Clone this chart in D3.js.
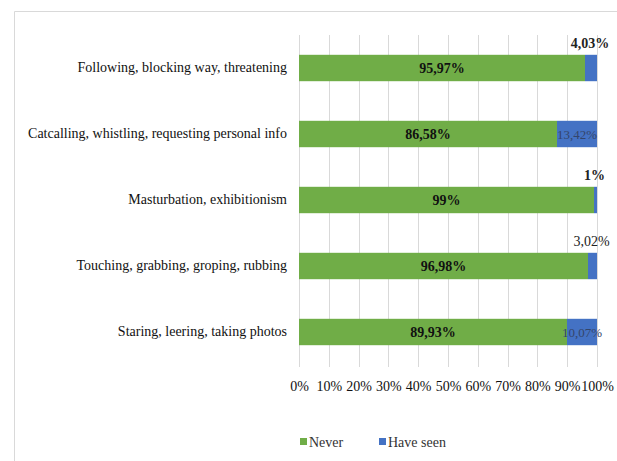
<!DOCTYPE html>
<html>
<head>
<meta charset="utf-8">
<script src="https://cdn.jsdelivr.net/npm/d3@7"></script>
<style>
  html, body { margin: 0; padding: 0; background: #fff; }
  svg { display: block; }
  text { font-family: "Liberation Serif", "Times New Roman", serif; }
</style>
</head>
<body>
<svg id="chart" width="617" height="461"></svg>
<script>
// Behaviour categories, top to bottom
const categories = [
  "Following, blocking way, threatening",
  "Catcalling, whistling, requesting personal info",
  "Masturbation, exhibitionism",
  "Touching, grabbing, groping, rubbing",
  "Staring, leering, taking photos"
];
// Shares (%) per series
const never = [95.97, 86.58, 99, 96.98, 89.93];
const haveSeen = [4.03, 13.42, 1, 3.02, 10.07];
// Label texts as printed
const neverLabels = ["95,97%", "86,58%", "99%", "96,98%", "89,93%"];
const seenLabels = ["4,03%", "13,42%", "1%", "3,02%", "10,07%"];
const seriesNames = ["Never", "Have seen"];
const tickValues = [0, 10, 20, 30, 40, 50, 60, 70, 80, 90, 100];

const colors = { "Never": "#70AD47", "Have seen": "#4472C4" };
const seenLabelWeight = ["bold", "normal", "bold", "normal", "normal"];

const svg = d3.select("#chart");

// Chart frame
svg.append("path")
  .attr("d", "M14.5,461 L14.5,11.5 L617,11.5")
  .attr("fill", "none")
  .attr("stroke", "#d9d9d9")
  .attr("stroke-width", 1);

const x = d3.scaleLinear().domain([0, 100]).range([299, 597]);
const y = d3.scaleBand().domain(categories).range([35, 365])
  .paddingInner(0.6).paddingOuter(0.3);

// Vertical gridlines
svg.append("g").selectAll("line").data(tickValues).join("line")
  .attr("x1", d => Math.round(x(d)) + 0.5)
  .attr("x2", d => Math.round(x(d)) + 0.5)
  .attr("y1", 35).attr("y2", 367)
  .attr("stroke", "#d9d9d9").attr("stroke-width", 1);

// X axis tick labels
const xAxis = d3.axisBottom(x).tickValues(tickValues)
  .tickFormat(d => d + "%").tickSize(0).tickPadding(0);
const gx = svg.append("g").attr("transform", "translate(0,380)").call(xAxis);
gx.select(".domain").remove();
gx.selectAll("text")
  .attr("font-size", 14).attr("fill", "#111")
  .attr("dy", "0.32em").attr("y", 7);

// Category labels
const yAxis = d3.axisLeft(y).tickSize(0).tickPadding(0);
const gy = svg.append("g").attr("transform", "translate(287,0)").call(yAxis);
gy.select(".domain").remove();
gy.selectAll("text")
  .attr("font-size", 14).attr("fill", "#111");

// Stacked bars
const rows = categories.map((c, i) => ({ c, i, never: never[i], seen: haveSeen[i] }));

svg.append("g").selectAll("rect").data(rows).join("rect")
  .attr("x", x(0))
  .attr("y", d => y(d.c))
  .attr("width", d => x(d.never) - x(0))
  .attr("height", y.bandwidth())
  .attr("fill", colors["Never"]);

svg.append("g").selectAll("rect").data(rows).join("rect")
  .attr("x", d => x(d.never))
  .attr("y", d => y(d.c))
  .attr("width", d => x(d.never + d.seen) - x(d.never))
  .attr("height", y.bandwidth())
  .attr("fill", colors["Have seen"]);

// Labels for the "Never" segment
svg.append("g").selectAll("text").data(rows).join("text")
  .attr("x", d => (x(0) + x(d.never)) / 2)
  .attr("y", d => y(d.c) + y.bandwidth() / 2)
  .attr("dy", "0.35em")
  .attr("text-anchor", "middle")
  .attr("font-size", 14).attr("font-weight", "bold")
  .attr("fill", "#111")
  .text(d => neverLabels[d.i]);

// Labels for the "Have seen" segment: inside when wide enough, above otherwise
svg.append("g").selectAll("text").data(rows).join("text")
  .attr("x", d => (x(d.never) + x(d.never + d.seen)) / 2 + (d.seen > 5 ? 0 : -1))
  .attr("y", d => d.seen > 5 ? y(d.c) + y.bandwidth() / 2 : y(d.c) - 12)
  .attr("dy", "0.35em")
  .attr("text-anchor", "middle")
  .attr("font-size", d => d.seen > 5 ? 13 : 14)
  .attr("font-weight", d => seenLabelWeight[d.i])
  .attr("fill", d => d.seen > 5 ? "#34456b" : "#222")
  .text(d => seenLabels[d.i]);

// Legend
const legend = svg.append("g").attr("transform", "translate(300,442)");
const items = legend.selectAll("g").data(seriesNames).join("g")
  .attr("transform", (d, i) => `translate(${i * 79},0)`);
items.append("rect")
  .attr("x", 0).attr("y", -4).attr("width", 7).attr("height", 7)
  .attr("fill", d => colors[d]);
items.append("text")
  .attr("x", 9).attr("y", 0).attr("dy", "0.35em")
  .attr("font-size", 14).attr("fill", "#333")
  .text(d => d);
</script>
</body>
</html>
